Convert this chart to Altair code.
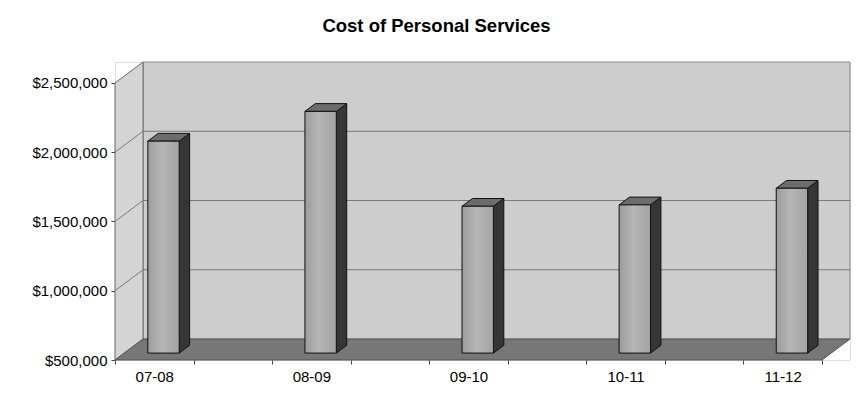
import altair as alt
import pandas as pd

# ---- data ----
CATEGORIES = ["07-08", "08-09", "09-10", "10-11", "11-12"]
COSTS = [2030000, 2245000, 1560000, 1570000, 1690000]
Y_TICKS = [500000, 1000000, 1500000, 2000000, 2500000]
TITLE = "Cost of Personal Services"

# ---- 3-D styling constants (data units) ----
BASE, TOP = 500000, 2500000
N_SLOTS = 9            # category slots along the floor (labels on every other one)
DX, DY = 0.357, 151500 # depth of the box
BAR_W = 0.40
F0, F1 = 0.33, 0.70    # bar front/back depth fractions
FONT = "Liberation Sans"

pos = [2 * i + 0.5 for i in range(len(CATEGORIES))]

XS = alt.Scale(domain=[0, N_SLOTS + DX], nice=False, zero=False)
YS = alt.Scale(domain=[BASE, TOP + DY], nice=False, zero=False)

tick_vals = [i * 0.5 for i in range(2 * N_SLOTS + 1)]
label_expr = " : ".join(
    f"datum.value == {p} ? '{c}'" for p, c in zip(pos, CATEGORIES)
) + " : ''"

XAXIS = alt.Axis(
    values=tick_vals, labelExpr=label_expr, domain=False, grid=False,
    tickSize=4, tickColor="#444",
    tickOpacity={"condition": {"test": "datum.value % 1 != 0", "value": 0}, "value": 1},
    labelFontSize=15, labelFont=FONT, labelColor="#000", labelPadding=5,
    labelOverlap=False, labelFlush=False, title=None,
)
YAXIS = alt.Axis(
    values=Y_TICKS, format="$,.0f", domain=False, grid=False,
    tickSize=4, tickColor="#444", labelFontSize=15, labelFont=FONT,
    labelColor="#000", labelPadding=4, title=None,
)


def X(f):
    return alt.X(f, type="quantitative", scale=XS, axis=XAXIS, stack=None)


def Y(f):
    return alt.Y(f, type="quantitative", scale=YS, axis=YAXIS, stack=None)


# back wall
wall = pd.DataFrame({"x0": [DX], "x1": [N_SLOTS + DX], "y0": [BASE + DY], "y1": [TOP + DY]})
back = alt.Chart(wall).mark_rect(fill="#cdcdcd", stroke="#8a8a8a", strokeWidth=1).encode(
    x=X("x0"), x2="x1", y=Y("y0"), y2="y1")

# left side wall
side_df = pd.DataFrame({"x": [0, DX], "lo": [BASE, BASE + DY], "hi": [TOP, TOP + DY]})
side = alt.Chart(side_df).mark_area(fill="#d4d4d4", stroke="#666", strokeWidth=1).encode(
    x=X("x"), y=Y("lo"), y2="hi")

# floor
floor_df = pd.DataFrame({"y": [BASE, BASE + DY], "xl": [0, DX], "xr": [N_SLOTS, N_SLOTS + DX]})
floor = alt.Chart(floor_df).mark_area(orient="horizontal", fill="#777777", stroke="#555",
                                      strokeWidth=1).encode(
    y=Y("y"), x=X("xl"), x2="xr")

# gridlines (side wall + back wall)
g_rows = []
for v in Y_TICKS[1:-1]:
    g_rows += [{"g": v, "o": 0, "x": 0, "y": v},
               {"g": v, "o": 1, "x": DX, "y": v + DY},
               {"g": v, "o": 2, "x": N_SLOTS + DX, "y": v + DY}]
grid = alt.Chart(pd.DataFrame(g_rows)).mark_line(color="#7a7a7a", strokeWidth=1).encode(
    x=X("x"), y=Y("y"), detail="g:N", order="o:Q")

# bars: one chart per bar for the 3-D faces
side_layers, top_layers = [], []
front_rows = []
for c, p, v in zip(CATEGORIES, pos, COSTS):
    front_rows.append({"cat": c, "value": v,
                       "x0": p - BAR_W / 2 + F0 * DX, "x1": p + BAR_W / 2 + F0 * DX,
                       "y0": BASE + F0 * DY, "y1": v + F0 * DY})
    s_df = pd.DataFrame({"x": [p + BAR_W / 2 + f * DX for f in (F0, F1)],
                         "lo": [BASE + f * DY for f in (F0, F1)],
                         "hi": [v + f * DY for f in (F0, F1)]})
    t_df = pd.DataFrame({"y": [v + f * DY for f in (F0, F1)],
                         "xl": [p - BAR_W / 2 + f * DX for f in (F0, F1)],
                         "xr": [p + BAR_W / 2 + f * DX for f in (F0, F1)]})
    side_layers.append(alt.Chart(s_df).mark_area(
        fill="#363636", stroke="#111", strokeWidth=1).encode(
        x=X("x"), y=Y("lo"), y2="hi"))
    top_layers.append(alt.Chart(t_df).mark_area(
        orient="horizontal", fill="#6c6c6c", stroke="#111", strokeWidth=1).encode(
        y=Y("y"), x=X("xl"), x2="xr"))

bar_fill = alt.Gradient(
    gradient="linear", x1=0, x2=1, y1=0, y2=0,
    stops=[alt.GradientStop(color="#9c9c9c", offset=0),
           alt.GradientStop(color="#b6b6b6", offset=0.45),
           alt.GradientStop(color="#a2a2a2", offset=1)])

bar_front = alt.Chart(pd.DataFrame(front_rows)).mark_rect(
    fill=bar_fill, stroke="#111", strokeWidth=1).encode(
    x=X("x0"), x2="x1", y=Y("y0"), y2="y1")

chart = alt.layer(back, side, floor, grid, *side_layers, *top_layers, bar_front).properties(
    width=735, height=298,
    title=alt.TitleParams(TITLE, font=FONT, fontSize=18.5, fontWeight="bold", color="#000",
                          anchor="middle", dx=-46, offset=25),
    autosize=alt.AutoSizeParams(type="none"),
    padding={"left": 115, "top": 62, "right": 9, "bottom": 40},
).configure_view(stroke=None).configure(background="white")

chart.save("out.html", embed_options={"renderer": "svg", "actions": False})
